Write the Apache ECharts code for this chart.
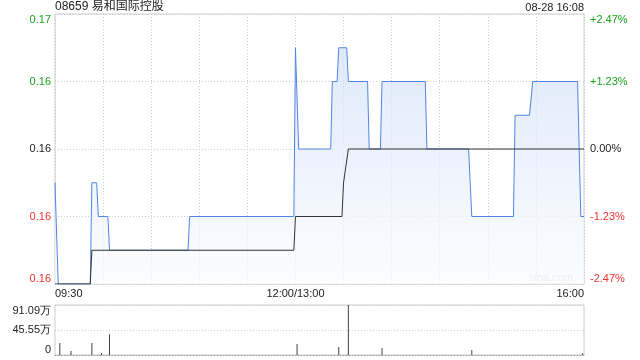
<!DOCTYPE html>
<html>
<head>
<meta charset="utf-8">
<script src="https://cdn.jsdelivr.net/npm/echarts@6/dist/echarts.min.js"></script>
<style>
html,body{margin:0;padding:0;background:#fff;}
#chart{width:640px;height:360px;}
</style>
</head>
<body>
<div id="chart"></div>
<script>
// ---- data (minute index from 09:30; 0..150 = 09:30-12:00, 150..330 = 13:00-16:00) ----
var titleText = '08659 易和国际控股';
var timeText = '08-28 16:08';
var prevClose = 0.162;
var priceMin = 0.158;
var priceMax = 0.166;
var priceInterval = 0.002;

var priceMinutes = [0,2,22,23,26,27,33,34,83,84,149,150,151,152,172,173,176,177,182,183,195,196,203,204,231,232,258,260,286,287,296,298,326,328,330];
var priceValues  = [0.161,0.158,0.158,0.161,0.161,0.160,0.160,0.159,0.159,0.160,0.160,0.165,0.165,0.162,0.162,0.164,0.164,0.165,0.165,0.164,0.164,0.162,0.162,0.164,0.164,0.162,0.162,0.160,0.160,0.163,0.163,0.164,0.164,0.160,0.160];

var avgMinutes = [0,22,23,149,150,179,180,181,183,330];
var avgValues  = [0.158,0.158,0.159,0.159,0.160,0.160,0.161,0.161,0.162,0.162];

var volMinutes = [3,10,23,29,34,151,177,183,204,260,329];
var volValues  = [21.9,7.3,21.9,3.6,37.7,20.0,14.6,91.09,12.7,9.0,3.0]; // 万
var volMax = 91.09;
var volTickLabels = ['0','45.55万','91.09万'];

var xTickMinutes = [0,150,330];
var xTickLabels = ['09:30','12:00/13:00','16:00'];

// ---- build ----
function pairs(xs, ys){ var out=[]; for(var i=0;i<xs.length;i++){ out.push([xs[i], ys[i]]); } return out; }

var GREEN = '#1aa31a', RED = '#f23030', BLACK = '#222';
function priceColor(v){
  if (v > prevClose + 1e-9) return GREEN;
  if (v < prevClose - 1e-9) return RED;
  return BLACK;
}
var FONT = '"Liberation Sans", Arial, sans-serif';

var chart = echarts.init(document.getElementById('chart'), null, {renderer:'canvas'});
var gridLine = {show:true, lineStyle:{color:'#cccccc', type:[1,2], width:1}};

chart.setOption({
  animation:false,
  backgroundColor:'#fff',
  textStyle:{fontFamily:FONT},
  graphic:[
    {type:'text', left:55, top:1, style:{text:titleText, fill:'#222', font:'12px "Liberation Sans", "Noto Sans CJK SC", sans-serif'}},
    {type:'text', right:56, top:2, style:{text:timeText, fill:'#222', font:'11px "Liberation Sans", Arial, sans-serif', textAlign:'right'}},
    {type:'text', right:67, top:272, style:{text:'sina.com', fill:'#cfcfcf', font:'11px "Liberation Sans", Arial, sans-serif', textAlign:'right'}}
  ],
  grid:[
    {left:55, right:56, top:14, height:270, show:true, borderColor:'#cccccc', borderWidth:1, backgroundColor:'transparent'},
    {left:55, right:56, top:305, height:50, show:true, borderColor:'#cccccc', borderWidth:1, backgroundColor:'transparent'}
  ],
  xAxis:[
    {type:'value', gridIndex:0, min:0, max:330, interval:30,
     axisLine:{show:false}, axisTick:{show:false},
     splitLine:gridLine,
     axisLabel:{show:true, margin:4, fontSize:11, color:'#222', fontFamily:FONT,
       alignMinLabel:'left', alignMaxLabel:'right',
       formatter:function(v){ var i = xTickMinutes.indexOf(v); return i>=0 ? xTickLabels[i] : ''; }}
    },
    {type:'value', gridIndex:1, min:0, max:330, interval:30,
     axisLine:{show:true, lineStyle:{color:'#999', type:[1,2]}}, axisTick:{show:false},
     splitLine:{show:false}, axisLabel:{show:false}}
  ],
  yAxis:[
    {type:'value', gridIndex:0, min:priceMin, max:priceMax, interval:priceInterval,
     axisLine:{show:false}, axisTick:{show:false}, splitLine:gridLine,
     axisLabel:{margin:4, fontSize:11, fontFamily:FONT,
       verticalAlignMinLabel:'bottom', verticalAlignMaxLabel:'top',
       color:function(v){ return priceColor(Number(v)); },
       formatter:function(v){ return Number(v).toFixed(2); }}
    },
    {type:'value', gridIndex:0, position:'right', min:priceMin, max:priceMax, interval:priceInterval,
     axisLine:{show:false}, axisTick:{show:false}, splitLine:{show:false},
     axisLabel:{margin:6, fontSize:11, fontFamily:FONT,
       verticalAlignMinLabel:'bottom', verticalAlignMaxLabel:'top',
       color:function(v){ return priceColor(Number(v)); },
       formatter:function(v){
         var p = (Number(v) - prevClose) / prevClose * 100;
         if (Math.abs(p) < 1e-6) return '0.00%';
         return (p > 0 ? '+' : '') + p.toFixed(2) + '%';
       }}
    },
    {type:'value', gridIndex:1, min:0, max:volMax, interval:volMax/2,
     axisLine:{show:false}, axisTick:{show:false}, splitLine:gridLine,
     axisLabel:{margin:4, fontSize:11, color:'#222', fontFamily:FONT,
       verticalAlignMinLabel:'bottom', verticalAlignMaxLabel:'top',
       formatter:function(v, idx){ return volTickLabels[idx] !== undefined ? volTickLabels[idx] : ''; }}
    }
  ],
  series:[
    {name:'price', type:'line', xAxisIndex:0, yAxisIndex:0, data:pairs(priceMinutes, priceValues),
     symbol:'none', z:2,
     lineStyle:{color:'#4f86e3', width:1},
     areaStyle:{origin:'start', color:new echarts.graphic.LinearGradient(0,0,0,1,[{offset:0,color:'#d2e1f8'},{offset:1,color:'#fbfcff'}])}
    },
    {name:'avg', type:'line', xAxisIndex:0, yAxisIndex:0, data:pairs(avgMinutes, avgValues),
     symbol:'none', z:3, lineStyle:{color:'#333', width:1}},
    {name:'vol', type:'bar', xAxisIndex:1, yAxisIndex:2, data:pairs(volMinutes, volValues),
     barWidth:1, itemStyle:{color:'#444'}}
  ]
});
</script>
</body>
</html>
